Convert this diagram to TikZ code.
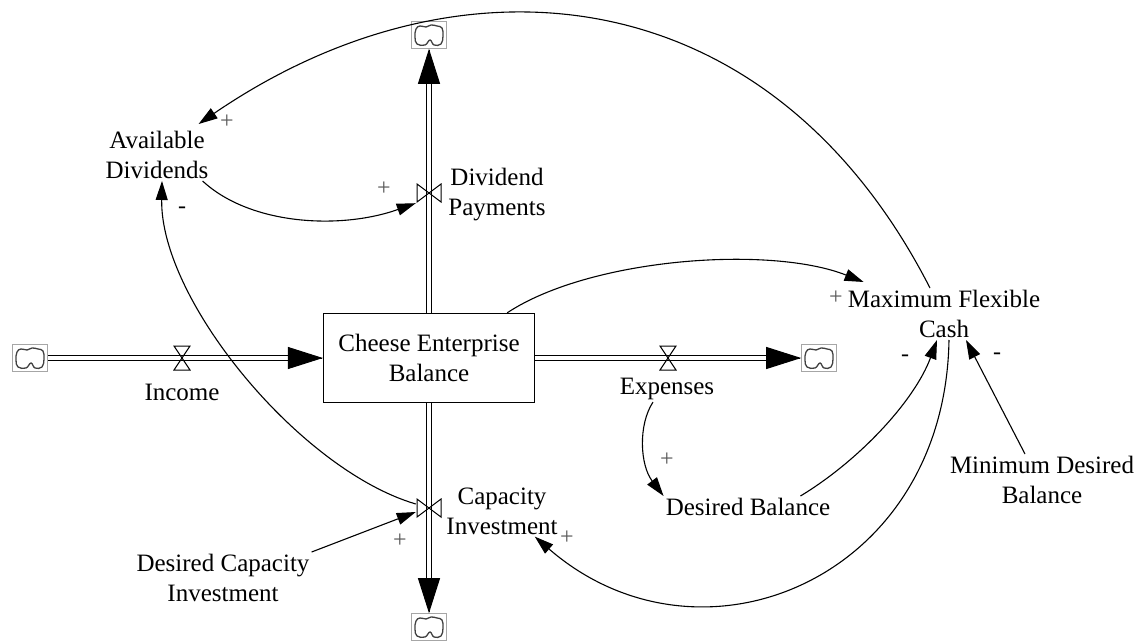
\documentclass[tikz,border=0pt]{standalone}
\usepackage{fontspec}
\setmainfont{Liberation Serif}
\usetikzlibrary{arrows.meta}
\tikzset{
	lbl/.style={font=\fontsize{25}{30}\selectfont, align=center, inner sep=2pt},
	pol/.style={font=\fontsize{24}{29}\selectfont, text=black!65, inner sep=0pt},
	neg/.style={pol, text=black},
	stockbox/.style={lbl, draw, fill=white, line width=1.2pt, minimum width=211pt, minimum height=89pt},
	pipe/.style={double, line width=1.1pt, double distance=3.6pt},
	pipetip/.style={line width=1pt, -{Triangle[length=35pt,width=22pt]}},
	link/.style={line width=1.1pt, -{Triangle[length=19pt,width=12pt]}},
	cloudbox/.style={draw=black!35, line width=.6pt, minimum width=35pt, minimum height=27pt, inner sep=0pt,
		path picture={\draw[line width=1.3pt, black!75, shift={(path picture bounding box.center)}]
			plot[smooth cycle, tension=.7] coordinates {(-13,-6) (-9,-9) (-3,-8) (2,-10) (8,-9) (13,-7) (14,1) (12,9) (5,10) (1,5) (-4,10) (-12,9) (-14,2)};}},
	valveh/.style={minimum width=18pt, minimum height=26pt, inner sep=0pt,
		path picture={\draw[line width=1pt] ([shift={(1,1)}]path picture bounding box.north west) -- ([shift={(-1,1)}]path picture bounding box.north east) -- ([shift={(1,-1)}]path picture bounding box.south west) -- ([shift={(-1,-1)}]path picture bounding box.south east) -- cycle;}},
	valvev/.style={minimum width=26pt, minimum height=20pt, inner sep=0pt,
		path picture={\draw[line width=1pt] ([shift={(1,1)}]path picture bounding box.north west) -- ([shift={(1,-1)}]path picture bounding box.south west) -- ([shift={(-1,1)}]path picture bounding box.north east) -- ([shift={(-1,-1)}]path picture bounding box.south east) -- cycle;}}
}

\begin{document}
\begin{tikzpicture}[x=1pt, y=-1pt]
			%%%%% START %%%%%
			
			\useasboundingbox (0,0) rectangle (1136,642);
			
			\node[cloudbox] (cIn) at (30,358) {};
			\node[cloudbox] (cOut) at (819,358) {};
			\node[cloudbox] (cTop) at (429,35) {};
			\node[cloudbox] (cBot) at (429,627) {};
			
			\node[stockbox] (stock) at (429,358) {Cheese Enterprise\\Balance};
			
			\draw[pipe, shorten >=20pt] (cIn) -- (stock);
			\draw[pipe, shorten >=20pt] (stock) -- (cOut);
			\draw[pipe, shorten >=20pt] (stock) -- (cTop);
			\draw[pipe, shorten >=20pt] (stock) -- (cBot);
			\draw[pipetip] ([xshift=-1pt]stock.west) -- (stock.west);
			\draw[pipetip] ([xshift=-1pt]cOut.west) -- (cOut.west);
			\draw[pipetip] ([yshift=-1pt]cTop.south) -- (cTop.south);
			\draw[pipetip] ([yshift=1pt]cBot.north) -- (cBot.north);
			
			\node[valveh] (vIn) at (182,358) {};
			\node[valveh] (vOut) at (668,358) {};
			\node[valvev] (vDiv) at (429,193) {};
			\node[valvev] (vCap) at (429,508) {};
			
			\node[lbl] (income) at (182,392) {Income};
			\node[lbl] (expenses) at (667,389) {Expenses};
			\node[lbl] (DP) at (497,195) {Dividend\\Payments};
			\node[lbl] (CI) at (502,511) {Capacity\\Investment};
			
			\node[lbl] (AD) at (157,155) {Available\\Dividends};
			\node[lbl] (DCI) at (223,578) {Desired Capacity\\Investment};
			\node[lbl] (MFC) at (944,314) {Maximum Flexible\\Cash};
			\node[lbl] (MDB) at (1042,480) {Minimum Desired\\Balance};
			\node[lbl] (DB) at (748,507) {Desired Balance};
			
			\draw[link] ([xshift=-14pt]MFC.north) .. controls (770,-25) and (460,-55) .. ([xshift=-12pt,yshift=5pt]AD.north east);
			\draw[link] ([xshift=-8pt]AD.south east) .. controls (250,225) and (340,230) .. (vDiv.south west);
			\draw[link] ([yshift=4pt]vCap.west) .. controls (300,470) and (160,300) .. ([xshift=5pt]AD.south);
			\draw[link] (DCI.north east) -- ([yshift=-4pt]vCap.west);
			\draw[link] ([xshift=-28pt]stock.north east) .. controls (590,258) and (770,245) .. ([xshift=18pt,yshift=6pt]MFC.north west);
			\draw[link] ([xshift=-14pt]expenses.south) .. controls (638,425) and (640,465) .. (DB.north west);
			\draw[link] ([xshift=-32pt]DB.north east) .. controls (860,460) and (915,400) .. ([xshift=-7pt]MFC.south);
			\draw[link] ([xshift=-17pt]MDB.north) -- ([xshift=22pt]MFC.south);
			\draw[link] ([xshift=5pt]MFC.south) .. controls (945,580) and (700,680) .. ([xshift=-25pt]CI.south east);
			
			\node[pol] (pAD1) at (227,122) {+};
			\node[pol] (pDP) at (384,189) {+};
			\node[neg] (pAD2) at (182,210) {-};
			\node[pol] (pCap1) at (400,541) {+};
			\node[pol] (pCap2) at (567,538) {+};
			\node[pol] (pMFC1) at (836,298) {+};
			\node[pol] (pDB) at (667,460) {+};
			\node[neg] (pMFC2) at (905,358) {-};
			\node[neg] (pMFC3) at (997,356) {-};
			
			%%%%% END %%%%%
\end{tikzpicture}
\end{document}
